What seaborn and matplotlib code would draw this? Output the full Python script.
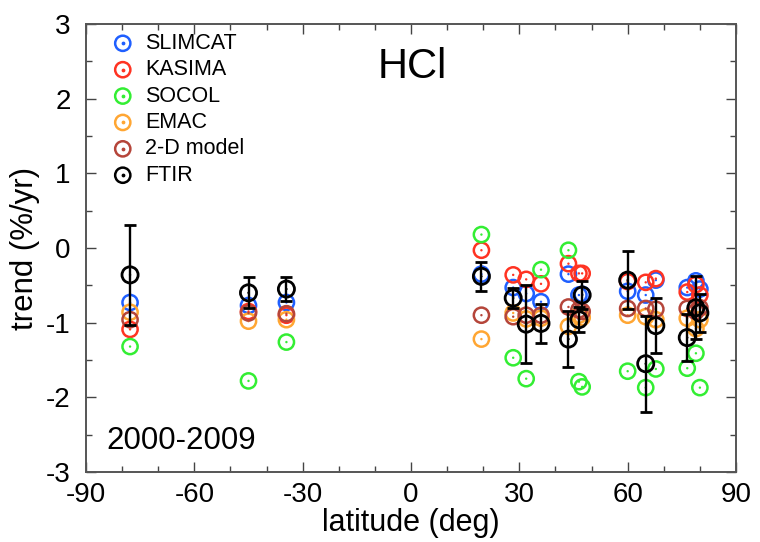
import numpy as np
import pandas as pd
import matplotlib
matplotlib.use("Agg")
import matplotlib.pyplot as plt
import seaborn as sns
from matplotlib.legend_handler import HandlerTuple
from matplotlib.ticker import MultipleLocator

# ---------------- data ----------------
lat = [-77.8, -45.0, -34.5, 19.5, 28.3, 31.9, 36.0, 43.6, 46.5, 47.4,
       60.0, 65.0, 67.8, 76.5, 78.9, 80.0]
slimcat = [-0.73, -0.77, -0.73, -0.35, -0.53, -0.61, -0.72, -0.35, -0.63, -0.62,
           -0.58, -0.63, -0.43, -0.53, -0.44, -0.55]
kasima = [-1.09, -0.85, -0.90, -0.03, -0.36, -0.42, -0.48, -0.21, -0.34, -0.34,
          -0.45, -0.46, -0.41, -0.59, -0.49, -0.63]
socol = [-1.32, -1.78, -1.26, 0.18, -1.47, -1.75, -0.29, -0.03, -1.79, -1.86,
         -1.65, -1.87, -1.62, -1.61, -1.41, -1.87]
emac = [-0.86, -0.98, -0.96, -1.22, -0.87, -0.95, -0.94, -1.05, -0.90, -0.93,
        -0.90, -0.92, -0.96, -0.94, -1.08, -0.96]
twod = [-0.96, -0.87, -0.88, -0.90, -0.92, -0.90, -0.90, -0.79, -0.83, -0.85,
        -0.81, -0.81, -0.82, -0.81, -0.85, -0.80]
ftir = [-0.36, -0.60, -0.55, -0.38, -0.67, -1.02, -1.01, -1.22, -0.96, -0.63,
        -0.43, -1.55, -1.04, -1.20, -0.80, -0.87]
ftir_err = [0.67, 0.21, 0.16, 0.19, 0.13, 0.52, 0.26, 0.37, 0.17, 0.19,
            0.39, 0.64, 0.37, 0.31, 0.42, 0.25]

model_names = ["SLIMCAT", "KASIMA", "SOCOL", "EMAC", "2-D model"]
model_values = [slimcat, kasima, socol, emac, twod]
model_colors = ["#1f5fff", "#ff3322", "#33ee33", "#ffa633", "#b5453a"]

xticks = [-90, -60, -30, 0, 30, 60, 90]
yticks = [-3, -2, -1, 0, 1, 2, 3]

# ---------------- style ----------------
sns.set_style("ticks")
plt.rcParams["font.family"] = ["Liberation Sans", "DejaVu Sans"]
plt.rcParams["text.color"] = "black"
plt.rcParams["axes.labelcolor"] = "black"
plt.rcParams["xtick.labelcolor"] = "black"
plt.rcParams["ytick.labelcolor"] = "black"

fig = plt.figure(figsize=(7.6, 5.42), dpi=100)
ax = fig.add_axes([86 / 760, 1 - 472 / 542, 650 / 760, 448 / 542])

S_RING = 120
S_DOT = 3
LW_RING = 1.8
handles = []
for name, vals, col in zip(model_names, model_values, model_colors):
    df = pd.DataFrame({"lat": lat, "trend": vals})
    sns.scatterplot(data=df, x="lat", y="trend", ax=ax, marker="o", s=S_RING,
                    color=col, facecolor="none", edgecolor=col, linewidth=LW_RING,
                    zorder=3, legend=False)
    sns.scatterplot(data=df, x="lat", y="trend", ax=ax, marker="o", s=S_DOT,
                    color=col, edgecolor="none", linewidth=0, zorder=3, legend=False)
    h1 = ax.scatter([], [], s=S_RING, facecolor="none", edgecolor=col, linewidth=LW_RING)
    h2 = ax.scatter([], [], s=S_DOT, color=col)
    handles.append((h1, h2))

# FTIR with error bars
ax.errorbar(lat, ftir, yerr=ftir_err, fmt="none", ecolor="black",
            elinewidth=1.7, capsize=4.5, capthick=2.0, zorder=4)
dff = pd.DataFrame({"lat": lat, "trend": ftir})
sns.scatterplot(data=dff, x="lat", y="trend", ax=ax, marker="o", s=S_RING + 15,
                color="black", facecolor="none", edgecolor="black", linewidth=2.0,
                zorder=5, legend=False)
sns.scatterplot(data=dff, x="lat", y="trend", ax=ax, marker="o", s=S_DOT,
                color="black", edgecolor="none", linewidth=0, zorder=5, legend=False)
h1 = ax.scatter([], [], s=S_RING, facecolor="none", edgecolor="black", linewidth=LW_RING)
h2 = ax.scatter([], [], s=S_DOT, color="black")
handles.append((h1, h2))

# ---------------- axes ----------------
ax.set_xlim(-90, 90)
ax.set_ylim(-3, 3)
ax.set_xticks(xticks)
ax.set_yticks(yticks)
ax.set_xticklabels([str(t) for t in xticks])
ax.set_yticklabels([str(t) for t in yticks])
ax.xaxis.set_minor_locator(MultipleLocator(10))
ax.yaxis.set_minor_locator(MultipleLocator(0.5))
ax.tick_params(which="both", direction="in", top=True, right=True,
               color="#444444", width=1.0)
ax.tick_params(which="major", length=7, labelsize=20)
ax.tick_params(axis="x", which="major", pad=7)
ax.tick_params(axis="y", which="major", pad=11)
ax.tick_params(which="minor", length=4)
for sp in ax.spines.values():
    sp.set_color("#555555")
    sp.set_linewidth(1.4)
ax.set_xlabel("latitude (deg)", fontsize=22, labelpad=0)
ax.set_ylabel("trend (%/yr)", fontsize=22.5, labelpad=4)

ax.text(0.502, 0.905, "HCl", transform=ax.transAxes, fontsize=30,
        ha="center", va="center")
ax.text(0.032, 0.069, "2000-2009", transform=ax.transAxes, fontsize=22.5,
        ha="left", va="center")

ax.legend(handles, model_names + ["FTIR"], loc="upper left",
          bbox_to_anchor=(0.04, 0.98), frameon=False, fontsize=15.5,
          handler_map={tuple: HandlerTuple(ndivide=1)},
          handlelength=1.0, handletextpad=0.53, labelspacing=0.25,
          borderaxespad=0.0, borderpad=0.0)

fig.savefig("out.png", dpi=100)
